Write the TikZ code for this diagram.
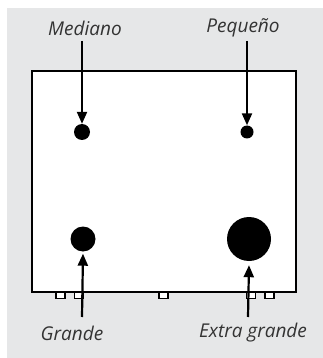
\documentclass[tikz,border=0pt]{standalone}
\usepackage{fontspec}
\setmainfont{Open Sans}
\usetikzlibrary{arrows.meta}
\definecolor{bggray}{HTML}{E6E7E8}
\definecolor{txt}{HTML}{333333}
\tikzset{
  lbl/.style={font=\itshape\fontsize{19}{22}\selectfont, text=txt, inner sep=0pt},
  dot/.style={circle, fill=black, inner sep=0pt},
  arr/.style={line width=2.2pt, -{Triangle[length=12pt,width=10pt]}},
  tab/.style={draw=black, fill=white, line width=1.6pt, minimum width=9pt, minimum height=6pt, inner sep=0pt}
}
\begin{document}
\begin{tikzpicture}[x=1pt,y=-1pt]
\useasboundingbox (0,0) rectangle (323,358);
\fill[bggray] (7,8) rectangle (323,358);
% box
\draw[line width=2.8pt, fill=white] (32,71) rectangle (296,292);
% tabs
\node[tab] (t1) at (60.5,295.5) {};
\node[tab] (t2) at (79,295.5) {};
\node[tab] (t3) at (163.5,295.5) {};
\node[tab] (t4) at (251,295.5) {};
\node[tab] (t5) at (269.5,295.5) {};
% redraw bottom edge over tabs
\draw[line width=2.8pt] (32,292) -- (296,292);
% dots
\node[dot, minimum size=16pt] (med) at (82,132) {};
\node[dot, minimum size=13pt] (peq) at (247,132) {};
\node[dot, minimum size=25pt] (gra) at (83,239) {};
\node[dot, minimum size=44pt] (xg) at (249,239) {};
% labels
\node[lbl] (lmed) at (85,28) {Mediano};
\node[lbl] (lpeq) at (243,28) {Peque\~no};
\node[lbl] (lgra) at (72,333) {Grande};
\node[lbl] (lxg) at (253,333) {Extra grande};
% arrow anchors
\coordinate (smed) at (82,41);
\coordinate (speq) at (247,41);
\coordinate (sgra) at (82,317);
\coordinate (sxg) at (248,317);
\draw[arr] (smed) -- (med.north);
\draw[arr] (speq) -- (peq.north);
\draw[arr] (sgra) -- ([yshift=-2pt]gra.south);
\draw[arr] (sxg) -- ([yshift=-4pt]xg.south);
\end{tikzpicture}
\end{document}
